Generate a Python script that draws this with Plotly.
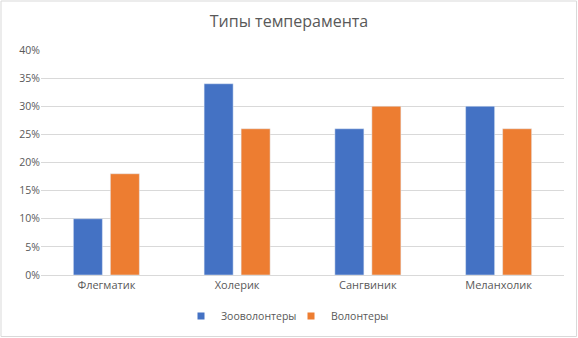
import plotly.graph_objects as go

categories = ["Флегматик", "Холерик", "Сангвиник", "Меланхолик"]
zoo = [0.10, 0.34, 0.26, 0.30]
vol = [0.18, 0.26, 0.30, 0.26]
series_names = ["Зооволонтеры", "Волонтеры"]
colors = ["#4472C4", "#ED7D31"]
title_text = "Типы темперамента"

W, H = 578, 338
ml, mr, mt, mb = 41, 14, 50, 63

fig = go.Figure()
for name, vals, c in zip(series_names, [zoo, vol], colors):
    fig.add_trace(go.Bar(x=categories, y=vals, name=name, marker_color=c, showlegend=False))
for name, c in zip(series_names, colors):
    fig.add_trace(go.Scatter(x=[None], y=[None], mode="markers", name=name,
                             marker=dict(symbol="square", size=7, color=c)))

pw = W - ml - mr
ph = H - mt - mb
fig.add_shape(type="rect", xref="paper", yref="paper",
              x0=-(ml - 1) / pw, x1=1 + (mr - 1.5) / pw,
              y0=-(mb - 1.5) / ph, y1=1 + (mt - 1) / ph,
              line=dict(color="#D9D9D9", width=1), layer="below")

fig.update_layout(
    width=W, height=H,
    margin=dict(l=ml, r=mr, t=mt, b=mb, autoexpand=False),
    paper_bgcolor="white", plot_bgcolor="white",
    font=dict(family="Open Sans", color="#595959", size=10),
    title=dict(text=title_text, x=0.5, xanchor="center", y=1 - 21 / H, yanchor="middle",
               font=dict(size=16, color="#595959")),
    barmode="group", bargap=0.434, bargroupgap=0.216,
    showlegend=True,
    legend=dict(orientation="h", x=(181 - ml) / pw, xanchor="left", y=-(316 - 275) / ph, yanchor="middle",
                font=dict(size=10.5, color="#595959"), itemwidth=30,
                entrywidth=65, entrywidthmode="pixels"),
    xaxis=dict(showline=True, linecolor="#D9D9D9", ticks="", tickfont=dict(size=11),
               automargin=False, range=[-0.5, 3.5]),
    yaxis=dict(range=[0, 0.40], dtick=0.05, tickformat=".0%", showgrid=True, gridcolor="#D9D9D9",
               zeroline=False, showline=False, tickfont=dict(size=10.5), automargin=False),
)

fig.write_html("out.html", config={"displayModeBar": False},
               post_script="document.body.style.margin='0';document.body.style.overflow='hidden';")
